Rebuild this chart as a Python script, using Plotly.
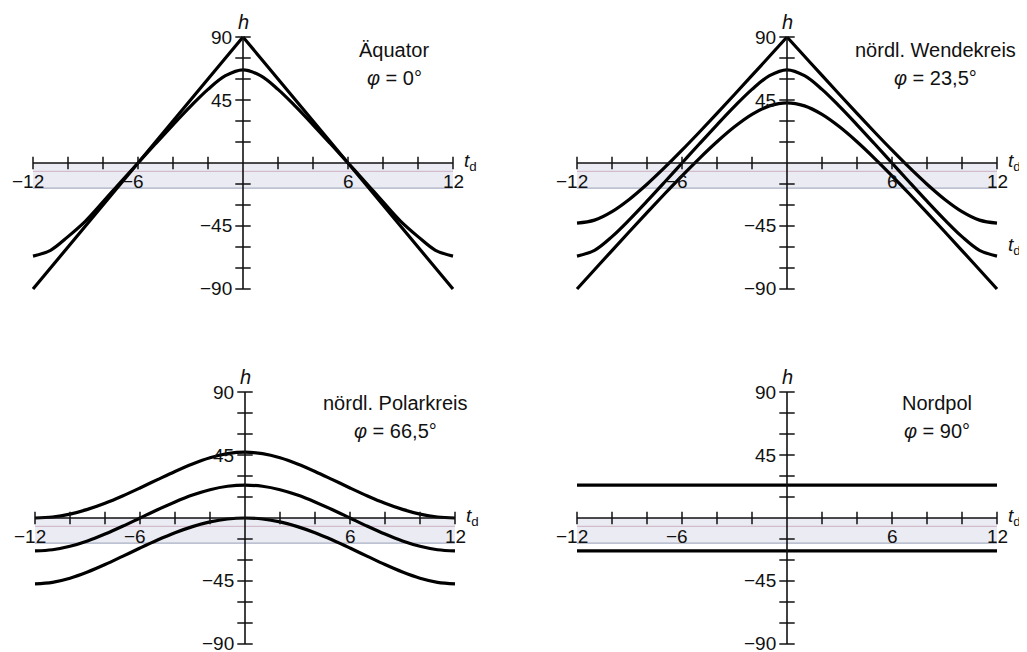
import plotly.graph_objects as go

W, H = 1027, 652
OFF = 8  # page body margin of the html page

# ---------------- data ----------------
T = [-12, -11, -10, -9, -8, -7, -6, -5, -4, -3, -2, -1, 0,
     1, 2, 3, 4, 5, 6, 7, 8, 9, 10, 11, 12]
T_ENDS = [-12, 12]

# Äquator, phi = 0°
EQ_DEC0 = [-90, -75, -60, -45, -30, -15, 0, 15, 30, 45, 60, 75, 90,
           75, 60, 45, 30, 15, 0, -15, -30, -45, -60, -75, -90]
EQ_DEC235 = [-66.5, -62.35, -52.58, -41.5, -27.8, -13.73, 0, 13.73, 27.29, 40.43, 52.58, 62.35, 66.5,
             62.35, 52.58, 40.43, 27.29, 13.73, 0, -13.73, -27.8, -41.5, -52.58, -62.35, -66.5]

# nördl. Wendekreis, phi = 23,5°
WK_DECP = [-43.0, -40.79, -34.70, -25.83, -15.16, -3.36, 9.15, 22.13, 35.42, 48.91, 62.54, 76.25, 90,
           76.25, 62.54, 48.91, 35.42, 22.13, 9.15, -3.36, -15.16, -25.83, -34.70, -40.79, -43.0]
WK_DEC0 = [-66.5, -62.35, -52.58, -40.43, -27.29, -13.73, 0, 13.73, 27.29, 40.43, 52.58, 62.35, 66.5,
           62.35, 52.58, 40.43, 27.29, 13.73, 0, -13.73, -27.29, -40.43, -52.58, -62.35, -66.5]
WK_DECM = [-90, -76.25, -62.54, -48.91, -35.42, -22.13, -9.15, 3.36, 15.16, 25.83, 34.70, 40.79, 43.0,
           40.79, 34.70, 25.83, 15.16, 3.36, -9.15, -22.13, -35.42, -48.91, -62.54, -76.25, -90]

# nördl. Polarkreis, phi = 66,5°
PK_DECP = [0, 0.71, 2.81, 6.15, 10.53, 15.73, 21.45, 27.41, 33.27, 38.63, 43.03, 45.96, 47.0,
           45.96, 43.03, 38.63, 33.27, 27.41, 21.45, 15.73, 10.53, 6.15, 2.81, 0.71, 0]
PK_DEC0 = [-23.5, -22.66, -20.20, -16.38, -11.50, -5.92, 0, 5.92, 11.50, 16.38, 20.20, 22.66, 23.5,
           22.66, 20.20, 16.38, 11.50, 5.92, 0, -5.92, -11.50, -16.38, -20.20, -22.66, -23.5]
PK_DECM = [-47.0, -45.96, -43.03, -38.63, -33.27, -27.41, -21.45, -15.73, -10.53, -6.15, -2.81, -0.71, 0,
           -0.71, -2.81, -6.15, -10.53, -15.73, -21.45, -27.41, -33.27, -38.63, -43.03, -45.96, -47.0]

# Nordpol, phi = 90°
NP_DECP = [23.5, 23.5]
NP_DECM = [-23.5, -23.5]

X_TICKS = [-12, -10, -8, -6, -4, -2, 2, 4, 6, 8, 10, 12]
Y_TICKS = [90, 75, 60, 45, 30, 15, -15, -30, -45, -60, -75, -90]
X_LABEL_VALS = [-12, -6, 6, 12]
X_LABELS = ["\u221212", "\u22126", "6", "12"]
Y_LABEL_VALS = [90, 45, -45, -90]
Y_LABELS = ["90", "45", "\u221245", "\u221290"]
TWILIGHT = [0, -6, -18]

PLACE_NAMES = ["Äquator", "nördl. Wendekreis", "nördl. Polarkreis", "Nordpol"]
PHI_LABELS = ["0°", "23,5°", "66,5°", "90°"]

# ---------------- layout / styling ----------------
FONT = "Liberation Sans, Arial, Helvetica, sans-serif"
FS = 19
FS_T = 20

panels = [
    dict(px=(33, 453), py=(37, 289),
         curves=[(T, EQ_DEC0, "cusp"), (T, EQ_DEC235, "smooth")],
         title=(394, 50)),
    dict(px=(577, 997), py=(37, 289),
         curves=[(T, WK_DECP, "cusp"), (T, WK_DEC0, "smooth"), (T, WK_DECM, "smooth")],
         title=(935, 50), extra_td=-59),
    dict(px=(35, 455), py=(392, 644),
         curves=[(T, PK_DECP, "smooth"), (T, PK_DEC0, "smooth"), (T, PK_DECM, "smooth")],
         title=(395, 403)),
    dict(px=(577, 997), py=(392, 644),
         curves=[(T_ENDS, NP_DECP, "smooth"), (T_ENDS, NP_DECM, "smooth")],
         title=(937, 403)),
]


def fx(px):
    return (px - OFF) / W


def fy(py):
    return 1 - (py - OFF) / H


fig = go.Figure()
layout = dict(width=W, height=H, margin=dict(l=0, r=0, t=0, b=0),
              paper_bgcolor="white", plot_bgcolor="rgba(0,0,0,0)",
              showlegend=False, font=dict(family=FONT, size=FS, color="#111"))
shapes, annotations = [], []

XR = (-12.5, 12.5)
YR = (-95, 95)
TD = "<i>t</i><sub>d</sub>"

for i, p in enumerate(panels, start=1):
    sfx = "" if i == 1 else str(i)
    xa, ya = "x" + sfx, "y" + sfx
    px0, px1 = p["px"]
    py0, py1 = p["py"]
    padx = (px1 - px0) / 24 * 0.5
    pady = (py1 - py0) / 180 * 5
    layout["xaxis" + sfx] = dict(domain=[fx(px0 - padx), fx(px1 + padx)], range=list(XR),
                                 visible=False, anchor=ya, fixedrange=True)
    layout["yaxis" + sfx] = dict(domain=[fy(py1 + pady), fy(py0 - pady)], range=list(YR),
                                 visible=False, anchor=xa, fixedrange=True)

    # twilight band
    shapes.append(dict(type="rect", xref=xa, yref=ya, x0=X_TICKS[0], x1=X_TICKS[-1],
                       y0=TWILIGHT[2], y1=TWILIGHT[0], fillcolor="#ebecf3",
                       line=dict(width=0), layer="below"))
    shapes.append(dict(type="line", xref=xa, yref=ya, x0=X_TICKS[0], x1=X_TICKS[-1],
                       y0=TWILIGHT[1], y1=TWILIGHT[1], line=dict(color="#d2bccb", width=1.2),
                       layer="below"))
    shapes.append(dict(type="line", xref=xa, yref=ya, x0=X_TICKS[0], x1=X_TICKS[-1],
                       y0=TWILIGHT[2], y1=TWILIGHT[2], line=dict(color="#a9afc4", width=1.2),
                       layer="below"))

    # curves
    for xs, ys, kind in p["curves"]:
        if kind == "cusp":
            mid = xs.index(0)
            parts = [(xs[:mid + 1], ys[:mid + 1]), (xs[mid:], ys[mid:])]
        else:
            parts = [(xs, ys)]
        for px_, py_ in parts:
            fig.add_trace(go.Scatter(x=px_, y=py_, mode="lines", xaxis=xa, yaxis=ya,
                                     line=dict(color="#000", width=3.2, shape="spline", smoothing=1.0),
                                     hoverinfo="skip"))

    # axes
    fig.add_trace(go.Scatter(x=[X_TICKS[0], X_TICKS[-1]], y=[0, 0], mode="lines", xaxis=xa, yaxis=ya,
                             line=dict(color="#111", width=1.6), hoverinfo="skip"))
    fig.add_trace(go.Scatter(x=[0, 0], y=[Y_TICKS[-1], Y_TICKS[0]], mode="lines", xaxis=xa, yaxis=ya,
                             line=dict(color="#111", width=1.6), hoverinfo="skip"))
    fig.add_trace(go.Scatter(x=X_TICKS, y=[0] * len(X_TICKS), mode="markers", xaxis=xa, yaxis=ya,
                             marker=dict(symbol="line-ns", size=9, line=dict(color="#111", width=1.5)),
                             hoverinfo="skip", cliponaxis=False))
    fig.add_trace(go.Scatter(x=[0] * len(Y_TICKS), y=Y_TICKS, mode="markers", xaxis=xa, yaxis=ya,
                             marker=dict(symbol="line-ew", size=11, line=dict(color="#111", width=1.5)),
                             hoverinfo="skip", cliponaxis=False))

    # tick labels
    for v, s in zip(X_LABEL_VALS, X_LABELS):
        annotations.append(dict(xref=xa, yref=ya, x=v, y=0, text=s, showarrow=False,
                                xanchor="center", yanchor="middle", yshift=-18,
                                xshift=-5 if v < 0 else 0, font=dict(size=FS)))
    for v, s in zip(Y_LABEL_VALS, Y_LABELS):
        annotations.append(dict(xref=xa, yref=ya, x=0, y=v, text=s, showarrow=False,
                                xanchor="right", yanchor="middle", xshift=-10, borderpad=0,
                                yshift=1 if v < 0 else 0, font=dict(size=FS)))

    # axis titles
    annotations.append(dict(xref=xa, yref=ya, x=0, y=Y_TICKS[0], text="<i>h</i>", showarrow=False,
                            xanchor="center", yanchor="bottom", yshift=2, font=dict(size=FS_T)))
    annotations.append(dict(xref=xa, yref=ya, x=X_TICKS[-1], y=0, text=TD,
                            showarrow=False, xanchor="left", yanchor="middle", xshift=10, yshift=1,
                            borderpad=0, font=dict(size=19)))
    if "extra_td" in p:
        annotations.append(dict(xref=xa, yref=ya, x=X_TICKS[-1], y=p["extra_td"],
                                text=TD, showarrow=False, xanchor="left",
                                yanchor="middle", xshift=10, borderpad=0, font=dict(size=19)))

    # panel title
    tx, ty = p["title"]
    annotations.append(dict(xref="paper", yref="paper", x=fx(tx), y=fy(ty),
                            text=PLACE_NAMES[i - 1], showarrow=False, xanchor="center",
                            yanchor="middle", font=dict(size=FS_T)))
    annotations.append(dict(xref="paper", yref="paper", x=fx(tx), y=fy(ty + 28),
                            text="<i>φ</i> = " + PHI_LABELS[i - 1], showarrow=False,
                            xanchor="center", yanchor="middle", font=dict(size=FS_T)))

layout["shapes"] = shapes
layout["annotations"] = annotations
fig.update_layout(**layout)
fig.write_html("out.html")
